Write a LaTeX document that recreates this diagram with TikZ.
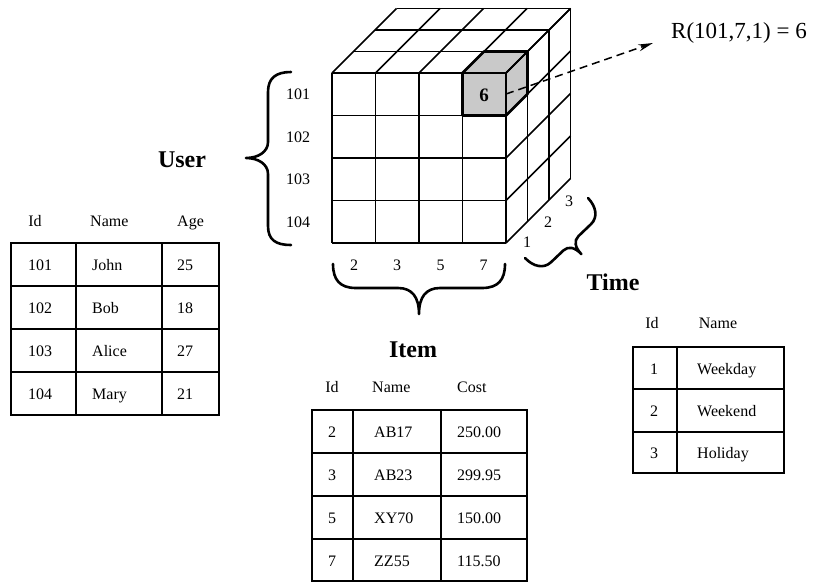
\documentclass[tikz,border=0pt]{standalone}
\usepackage{fontspec}
\setmainfont{Liberation Serif}
\usetikzlibrary{arrows.meta}
\begin{document}
\begin{tikzpicture}[x=1pt,y=-1pt,
  cubeline/.style={line width=1.5pt},
  heavyline/.style={line width=2.6pt},
  tabline/.style={line width=1.8pt},
  bracepath/.style={line width=2.6pt, line cap=round, line join=round},
  txt/.style={font=\fontsize{16}{18}\selectfont, inner sep=0pt, anchor=base},
  txtw/.style={font=\fontsize{16}{18}\selectfont, inner sep=0pt, anchor=base west},
  biglabel/.style={font=\bfseries\fontsize{24}{26}\selectfont, inner sep=0pt, anchor=base},
  cellgray/.style={fill=black!21}]
\useasboundingbox (0,0) rectangle (816,582);

% ---------- highlighted cell (fill) ----------
\fill[cellgray] (462.5,73) rectangle (506,115.5);
\fill[cellgray] (462.5,73) -- (484,51.5) -- (527.5,51.5) -- (506,73) -- cycle;
\fill[cellgray] (506,73) -- (527.5,51.5) -- (527.5,94) -- (506,115.5) -- cycle;

% ---------- cube grid ----------
% front face
\foreach \i in {0,...,4} \draw[cubeline] ({332+\i*43.5},73) -- ({332+\i*43.5},243);
\foreach \j in {0,...,4} \draw[cubeline] (332,{73+\j*42.5}) -- (506,{73+\j*42.5});
\draw[heavyline] (332,158) -- (506,158);
% top face
\foreach \k in {1,2,3} \draw[cubeline] ({332+\k*21.5},{73-\k*21.5}) -- ({506+\k*21.5},{73-\k*21.5});
\foreach \i in {0,...,4} \draw[cubeline] ({332+\i*43.5},73) -- ({332+\i*43.5+64.5},8.5);
% right face
\foreach \k in {1,2,3} \draw[cubeline] ({506+\k*21.5},{73-\k*21.5}) -- ({506+\k*21.5},{243-\k*21.5});
\foreach \j in {0,...,4} \draw[cubeline] (506,{73+\j*42.5}) -- (570.5,{73+\j*42.5-64.5});

% highlighted cell outline
\draw[heavyline, line join=round] (462.5,73) -- (462.5,115.5) -- (506,115.5) -- (527.5,94) -- (527.5,51.5) -- (484,51.5) -- cycle;
\draw[heavyline] (462.5,73) -- (506,73) -- (506,115.5);
\draw[cubeline] (506,73) -- (527.5,51.5);
\node[font=\bfseries\fontsize{19}{21}\selectfont, inner sep=0pt] (six) at (484,95) {6};

% ---------- relation label and arrow ----------
\node[font=\fontsize{23}{25}\selectfont, inner sep=0pt, anchor=base west] (rel) at (671,38) {R(101,7,1) = 6};
\coordinate (arrS) at (506,94);
\coordinate (arrE) at (653,43);
\draw[line width=1.5pt, dash pattern=on 8pt off 5pt, -{Stealth[length=15pt,width=7pt]}] (arrS) -- (arrE);

% ---------- cube axis labels ----------
\node[txt] (u101) at (298,99.5) {101};
\node[txt] (u102) at (298,142) {102};
\node[txt] (u103) at (298,184.5) {103};
\node[txt] (u104) at (298,227) {104};
\node[txt] (i2) at (354,270.5) {2};
\node[txt] (i3) at (397,270.5) {3};
\node[txt] (i5) at (440.5,270.5) {5};
\node[txt] (i7) at (483.5,270.5) {7};
\node[txt] (t1) at (527,247.5) {1};
\node[txt] (t2) at (548,227.5) {2};
\node[txt] (t3) at (569,206.5) {3};

% ---------- braces ----------
\draw[bracepath] (291,72) .. controls (276,72) and (268,78) .. (268,92) -- (268,142)
  .. controls (268,152) and (258,158) .. (246,158)
  .. controls (258,158) and (268,164) .. (268,174) -- (268,226)
  .. controls (268,240) and (276,245) .. (291,245);
\draw[bracepath] (333,264) .. controls (333,280) and (340,288) .. (356,288) -- (398,288)
  .. controls (412,288) and (419,297) .. (419,314)
  .. controls (419,297) and (426,288) .. (440,288) -- (482,288)
  .. controls (498,288) and (505,280) .. (505,264);
\begin{scope}[shift={(525,258)}, rotate=43.6]
\draw[bracepath] (0,0) .. controls (0,12) and (6,21) .. (16,21) -- (33,21)
  .. controls (40,21) and (43.5,27) .. (43.5,36)
  .. controls (43.5,27) and (47,21) .. (54,21) -- (71,21)
  .. controls (81,21) and (87,12) .. (87,0);
\end{scope}

% ---------- dimension names ----------
\node[biglabel] (userlbl) at (182,167) {User};
\node[biglabel] (timelbl) at (613,290) {Time};
\node[biglabel] (itemlbl) at (413,357) {Item};

% ---------- User table ----------
\draw[tabline] (11,243) rectangle (219,415);
\draw[tabline] (76,243) -- (76,415);
\draw[tabline] (162,243) -- (162,415);
\draw[tabline] (11,286) -- (219,286);
\draw[tabline] (11,329) -- (219,329);
\draw[heavyline] (11,372) -- (219,372);
\node[txt] (uhId) at (35,226) {Id};
\node[txtw] (uhName) at (90,226) {Name};
\node[txtw] (uhAge) at (177,226) {Age};
\node[txt] (ua1) at (40,270.5) {101};
\node[txtw] (ub1) at (92,270.5) {John};
\node[txtw] (uc1) at (177,270.5) {25};
\node[txt] (ua2) at (40,313.5) {102};
\node[txtw] (ub2) at (92,313.5) {Bob};
\node[txtw] (uc2) at (177,313.5) {18};
\node[txt] (ua3) at (40,356.5) {103};
\node[txtw] (ub3) at (92,356.5) {Alice};
\node[txtw] (uc3) at (177,356.5) {27};
\node[txt] (ua4) at (40,399.5) {104};
\node[txtw] (ub4) at (92,399.5) {Mary};
\node[txtw] (uc4) at (177,399.5) {21};

% ---------- Item table ----------
\draw[tabline] (312,410) rectangle (527,581);
\draw[tabline] (353,410) -- (353,581);
\draw[tabline] (441,410) -- (441,581);
\draw[tabline] (312,453) -- (527,453);
\draw[heavyline] (312,496) -- (527,496);
\draw[tabline] (312,539) -- (527,539);
\node[txt] (ihId) at (332,392) {Id};
\node[txtw] (ihName) at (372,392) {Name};
\node[txtw] (ihCost) at (457,392) {Cost};
\node[txt] (ia1) at (332,437.5) {2};
\node[txtw] (ib1) at (374,437.5) {AB17};
\node[txtw] (ic1) at (457,437.5) {250.00};
\node[txt] (ia2) at (332,480.5) {3};
\node[txtw] (ib2) at (374,480.5) {AB23};
\node[txtw] (ic2) at (457,480.5) {299.95};
\node[txt] (ia3) at (332,523.5) {5};
\node[txtw] (ib3) at (374,523.5) {XY70};
\node[txtw] (ic3) at (457,523.5) {150.00};
\node[txt] (ia4) at (332,566) {7};
\node[txtw] (ib4) at (374,566) {ZZ55};
\node[txtw] (ic4) at (457,566) {115.50};

% ---------- Time table ----------
\draw[tabline] (633,347) rectangle (784,473);
\draw[tabline] (677,347) -- (677,473);
\draw[tabline] (633,389) -- (784,389);
\draw[heavyline] (633,432) -- (784,432);
\node[txt] (thId) at (652,328) {Id};
\node[txt] (thName) at (718,328) {Name};
\node[txt] (ta1) at (654,374) {1};
\node[txtw] (tb1) at (697,374) {Weekday};
\node[txt] (ta2) at (654,416.5) {2};
\node[txtw] (tb2) at (697,416.5) {Weekend};
\node[txt] (ta3) at (654,458.5) {3};
\node[txtw] (tb3) at (697,458.5) {Holiday};
\end{tikzpicture}
\end{document}
